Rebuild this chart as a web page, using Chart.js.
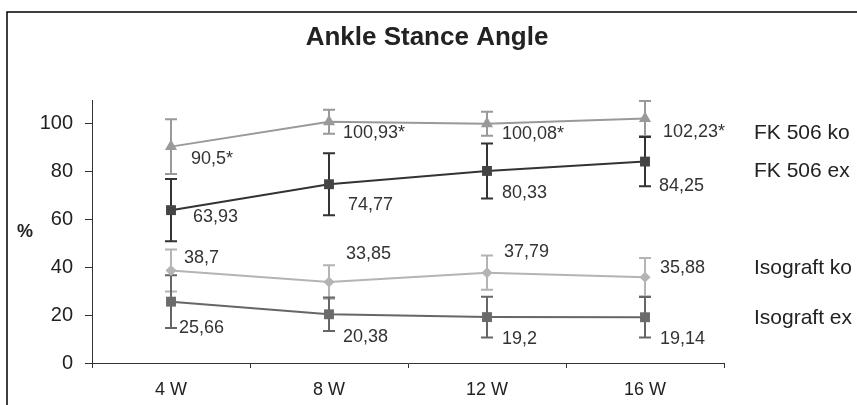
<!DOCTYPE html>
<html>
<head>
<meta charset="utf-8">
<script src="https://cdn.jsdelivr.net/npm/chart.js@4.4.1/dist/chart.umd.min.js"></script>
<style>
    html, body { margin: 0; padding: 0; background: #fff; }
    #contenedor { position: relative; width: 857px; height: 405px; }
</style>
</head>
<body>
<div id="contenedor"><canvas id="graficoTobillo"></canvas></div>
<script>
    /*      DATOS      */
    var semanas = ['4 W', '8 W', '12 W', '16 W'];
    var nombres = ['FK 506 ko', 'FK 506 ex', 'Isograft ko', 'Isograft ex'];
    var fkKo = [90.5, 100.93, 100.08, 102.23];
    var fkKoErr = [11.5, 5, 5, 7.3];
    var fkEx = [63.93, 74.77, 80.33, 84.25];
    var fkExErr = [13, 13, 11.5, 10.3];
    var isoKo = [38.7, 33.85, 37.79, 35.88];
    var isoKoErr = [8.8, 7, 7.2, 8];
    var isoEx = [25.66, 20.38, 19.2, 19.14];
    var isoExErr = [11, 7, 8.5, 8.5];
    var ticksY = [0, 20, 40, 60, 80, 100];

    var fuente = "'Liberation Sans', Arial, sans-serif";

    function formatear(v) {
        return String(v).replace('.', ',');
    }

    // barras de error, etiquetas y textos sueltos
    var extras = {
        id: 'extras',
        beforeDatasetsDraw: function(chart) {
            var ctx = chart.ctx;
            var y = chart.scales.y;
            chart.data.datasets.forEach(function(ds, i) {
                var meta = chart.getDatasetMeta(i);
                ctx.save();
                ctx.strokeStyle = ds.borderColor;
                ctx.lineWidth = 2;
                meta.data.forEach(function(p, j) {
                    var top = y.getPixelForValue(ds.data[j] + ds.errores[j]);
                    var bot = y.getPixelForValue(ds.data[j] - ds.errores[j]);
                    ctx.beginPath();
                    ctx.moveTo(p.x, top);
                    ctx.lineTo(p.x, bot);
                    ctx.moveTo(p.x - 6, top);
                    ctx.lineTo(p.x + 6, top);
                    ctx.moveTo(p.x - 6, bot);
                    ctx.lineTo(p.x + 6, bot);
                    ctx.stroke();
                });
                ctx.restore();
            });
        },
        afterDatasetsDraw: function(chart) {
            var ctx = chart.ctx;
            ctx.save();
            ctx.font = '18px ' + fuente;
            ctx.fillStyle = '#333';
            ctx.textAlign = 'left';
            ctx.textBaseline = 'middle';
            chart.data.datasets.forEach(function(ds, i) {
                var meta = chart.getDatasetMeta(i);
                meta.data.forEach(function(p, j) {
                    var off = ds.desplaz[j];
                    ctx.fillText(formatear(ds.data[j]) + (ds.sufijo || ''), p.x + off[0], p.y + off[1]);
                });
            });
            ctx.restore();
        },
        afterDraw: function(chart) {
            var ctx = chart.ctx;
            ctx.save();
            // marco
            ctx.strokeStyle = '#000';
            ctx.lineWidth = 1.5;
            ctx.beginPath();
            ctx.moveTo(7, 405);
            ctx.lineTo(7, 12);
            ctx.lineTo(857, 12);
            ctx.stroke();

            ctx.fillStyle = '#222';
            ctx.textBaseline = 'alphabetic';
            ctx.textAlign = 'center';
            ctx.font = 'bold 26px ' + fuente;
            ctx.fillText('Ankle Stance Angle', 427, 45);

            ctx.textAlign = 'left';
            ctx.textBaseline = 'middle';
            ctx.font = 'bold 18px ' + fuente;
            ctx.fillText('%', 17, 232);

            ctx.font = '21px ' + fuente;
            var ys = [133, 171, 268, 318];
            nombres.forEach(function(n, i) {
                ctx.fillText(n, 754, ys[i]);
            });
            ctx.restore();
        }
    };

    var ctx = document.getElementById('graficoTobillo').getContext('2d');
    var grafico = new Chart(ctx, {
        type: 'line',
        data: {
            labels: semanas,
            datasets: [{
                label: nombres[0],
                data: fkKo,
                errores: fkKoErr,
                sufijo: '*',
                desplaz: [[20, 12], [14, 11], [15, 10], [18, 13]],
                borderColor: '#999',
                backgroundColor: '#999',
                pointStyle: 'triangle',
                pointRadius: 7
            }, {
                label: nombres[1],
                data: fkEx,
                errores: fkExErr,
                desplaz: [[22, 7], [19, 21], [15, 22], [14, 24]],
                borderColor: '#333',
                backgroundColor: '#444',
                pointStyle: 'rect',
                pointRadius: 7
            }, {
                label: nombres[2],
                data: isoKo,
                errores: isoKoErr,
                desplaz: [[13, -12], [17, -28], [17, -21], [15, -9]],
                borderColor: '#b4b4b4',
                backgroundColor: '#b4b4b4',
                pointStyle: 'rectRot',
                pointRadius: 5.5
            }, {
                label: nombres[3],
                data: isoEx,
                errores: isoExErr,
                desplaz: [[8, 26], [14, 23], [15, 22], [15, 22]],
                borderColor: '#666',
                backgroundColor: '#6b6b6b',
                pointStyle: 'rect',
                pointRadius: 7
            }]
        },
        options: {
            responsive: true,
            maintainAspectRatio: false,
            animation: false,
            layout: { padding: { top: 100, right: 133, left: 0, bottom: 0 } },
            elements: {
                line: { borderWidth: 2, tension: 0 },
                point: { borderWidth: 0 }
            },
            plugins: {
                legend: { display: false },
                tooltip: { enabled: false }
            },
            scales: {
                x: {
                    offset: true,
                    grid: { offset: true, drawOnChartArea: false, tickLength: 5, color: '#333' },
                    border: { color: '#333', width: 1 },
                    ticks: { font: { size: 18, family: fuente }, color: '#222', padding: 11 },
                    afterFit: function(scale) { scale.height = 42; }
                },
                y: {
                    min: 0,
                    max: 110,
                    grid: { drawOnChartArea: false, tickLength: 7, color: '#333' },
                    border: { color: '#333', width: 1 },
                    ticks: { font: { size: 20, family: fuente }, color: '#222', padding: 12 },
                    afterBuildTicks: function(scale) {
                        scale.ticks = ticksY.map(function(v) { return { value: v }; });
                    },
                    afterFit: function(scale) { scale.width = 92; }
                }
            }
        },
        plugins: [extras]
    });
</script>
</body>
</html>
